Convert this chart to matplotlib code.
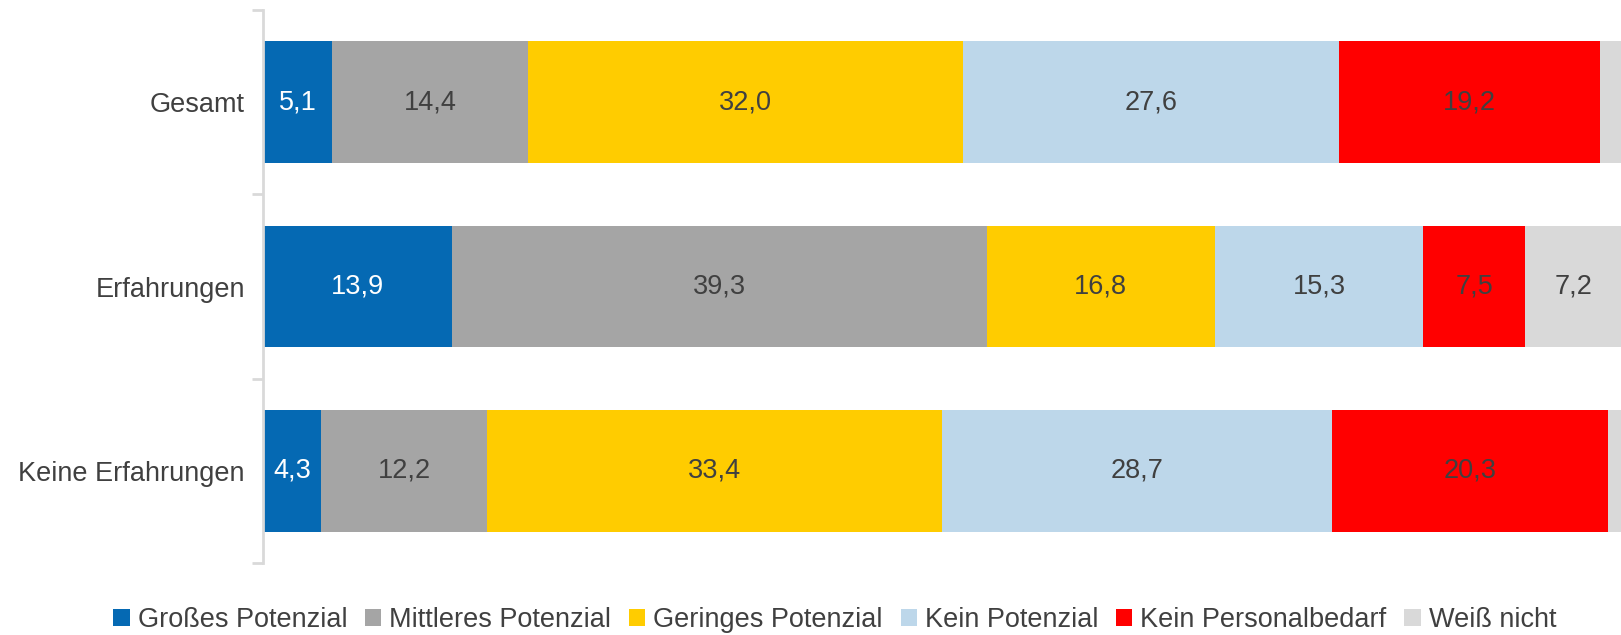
import matplotlib.pyplot as plt
import numpy as np
from matplotlib.patches import Patch

plt.rcParams['font.family'] = ['Liberation Sans', 'DejaVu Sans']

# Data
categories = ['Gesamt', 'Erfahrungen', 'Keine Erfahrungen']
series = ['Großes Potenzial', 'Mittleres Potenzial', 'Geringes Potenzial',
          'Kein Potenzial', 'Kein Personalbedarf', 'Weiß nicht']
gross = [5.1, 13.9, 4.3]
mittel = [14.4, 39.3, 12.2]
gering = [32.0, 16.8, 33.4]
kein_pot = [27.6, 15.3, 28.7]
kein_bedarf = [19.2, 7.5, 20.3]
weiss_nicht = [1.7, 7.2, 1.1]

values = [gross, mittel, gering, kein_pot, kein_bedarf, weiss_nicht]
colors = ['#0569B3', '#A5A5A5', '#FFCC00', '#BDD7EA', '#FF0000', '#D9D9D9']
text_colors = ['white', '#404040', '#404040', '#404040', '#404040', '#404040']

fig = plt.figure(figsize=(16.21, 6.35), dpi=100)
# axes runs past the right edge, the original is cropped there
ax = fig.add_axes([263 / 1621, 1 - 563 / 635, 1360 / 1621, 553 / 635])

y = np.arange(len(categories))
left = np.zeros(len(categories))
for vals, col, tcol in zip(values, colors, text_colors):
    vals = np.array(vals)
    ax.barh(y, vals, left=left, height=0.66, color=col, linewidth=0)
    for yi, v, l in zip(y, vals, left):
        if v >= 2:
            ax.text(l + v / 2, yi, f'{v:.1f}'.replace('.', ','), ha='center', va='center',
                    fontsize=19.5, color=tcol)
    left += vals

ax.set_xlim(0, 100)
ax.set_ylim(2.5, -0.5)

# category labels without ticks, boundary ticks as minor ticks
ax.set_yticks(y)
ax.set_yticklabels(categories, fontsize=19.5, color='#404040')
ax.tick_params(axis='y', which='major', length=0, pad=13)
ax.set_yticks([-0.5, 0.5, 1.5, 2.5], minor=True)
ax.tick_params(axis='y', which='minor', length=8, width=2, color='#D9D9D9')
ax.set_xticks([])

for s in ['top', 'right', 'bottom']:
    ax.spines[s].set_visible(False)
ax.spines['left'].set_color('#D9D9D9')
ax.spines['left'].set_linewidth(2)

handles = [Patch(facecolor=c, edgecolor='none') for c in colors]
fig.legend(handles, series, loc='center', bbox_to_anchor=(0.515, 0.024), ncol=6,
           frameon=False, fontsize=19.5, handlelength=0.6, handleheight=0.6,
           handletextpad=0.3, columnspacing=0.65, labelcolor='#404040')

fig.savefig('out.png', dpi=100)
